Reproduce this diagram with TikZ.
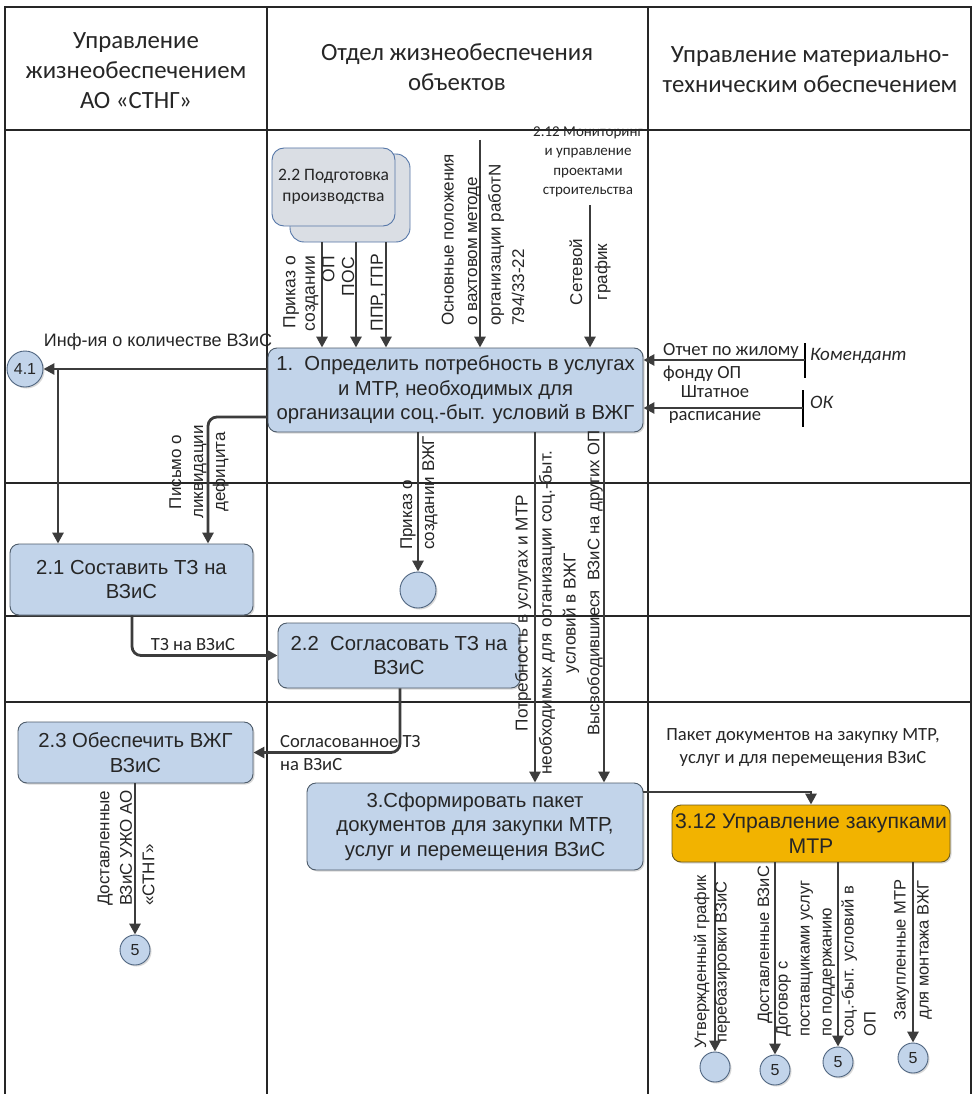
\documentclass[tikz,border=0pt]{standalone}
\usepackage{fontspec}
\setmainfont{Carlito}
\newfontfamily\arial{Liberation Sans}
\usetikzlibrary{arrows.meta,calc,shadows}
\definecolor{procfill}{HTML}{C2D4EA}
\definecolor{procdraw}{HTML}{4E5C6B}
\definecolor{circdraw}{HTML}{4F6580}
\definecolor{conncol}{HTML}{3C3C3C}
\definecolor{goldfill}{HTML}{F2B300}
\definecolor{golddraw}{HTML}{6B5A1E}
\definecolor{prepfill}{HTML}{DADEE4}
\definecolor{prepdraw}{HTML}{5677A8}
\tikzset{
  lane/.style={line width=1.2pt, draw=black!85},
  tickline/.style={line width=1.2pt, draw=black},
  shad/.style={drop shadow={shadow xshift=1.5pt, shadow yshift=-1.5pt, opacity=0.3}},
  proc/.style={rectangle, rounded corners=9pt, draw=procdraw, fill=procfill, line width=0.9pt,
    align=center, inner sep=1pt, font=\arial\fontsize{20.3}{24.5}\selectfont, text=black!85, shad},
  gold/.style={proc, fill=goldfill, draw=golddraw},
  circ/.style={circle, draw=circdraw, fill=procfill, line width=0.9pt, minimum size=30pt,
    inner sep=0pt, font=\arial\fontsize{16}{16}\selectfont, text=black!85, shad},
  conn/.style={line width=2.8pt, draw=conncol, -{Triangle[length=11pt,width=11pt]}},
  hdr/.style={align=center, font=\fontsize{24.8}{30}\selectfont, text=black!85, inner sep=0pt},
  rlbl/.style={rotate=90, inner sep=0pt, font=\arial\fontsize{17}{22}\selectfont, text=black!85},
  hlbl/.style={inner sep=0pt, font=\arial\fontsize{18}{21}\selectfont, text=black!85},
  clbl/.style={inner sep=0pt, font=\fontsize{18.6}{23}\selectfont, text=black!85},
  ilbl/.style={inner sep=0pt, font=\fontsize{19}{23}\selectfont\itshape, text=black!85},
}
\begin{document}
\begin{tikzpicture}[x=1pt, y=-1pt]
\useasboundingbox (0,0) rectangle (974,1094);
\fill[white] (0,0) rectangle (974,1094);
% lanes
\draw[lane] (5,1094) -- (5,7) -- (971,7) -- (971,1094);
\draw[lane] (5,130) -- (971,130);
\draw[lane] (267,7) -- (267,1094);
\draw[lane] (648,7) -- (648,1094);
\draw[lane] (5,483) -- (971,483);
\draw[lane] (5,616) -- (971,616);
\draw[lane] (5,702) -- (971,702);
% headers
\node[hdr] (h1) at (136,71) {Управление\\жизнеобеспечением\\АО «СТНГ»};
\node[hdr] (h2) at (457,67) {Отдел жизнеобеспечения\\объектов};
\node[hdr] (h3) at (810,70) {Управление материально-\\техническим обеспечением};
% 2.2 preparation (stacked)
\node[rectangle, rounded corners=14pt, draw=prepdraw, fill=prepfill, line width=0.9pt,
  minimum width=120pt, minimum height=88pt] (prepb) at (350,198) {};
\node[rectangle, rounded corners=12pt, draw=prepdraw, fill=prepfill, line width=0.9pt,
  minimum width=123pt, minimum height=78pt, align=center, text=black!85,
  font=\fontsize{17.5}{21}\selectfont] (prepf) at (333.5,187) {2.2 Подготовка\\производства};
% process nodes
\node[proc, minimum width=375pt, minimum height=84pt] (n1) at (455.5,390)
  {1.\ \ Определить потребность в услугах\\и МТР, необходимых для\\организации соц.-быт. условий в ВЖГ};
\node[proc, minimum width=243pt, minimum height=71pt] (n21) at (131.5,579.5) {2.1 Составить ТЗ на\\ВЗиС};
\node[proc, minimum width=242pt, minimum height=65pt] (n22) at (399,655.5) {2.2\ \ Согласовать ТЗ на\\ВЗиС};
\node[proc, minimum width=235pt, minimum height=61pt] (n23) at (135.5,752.5) {2.3 Обеспечить ВЖГ\\ВЗиС};
\node[proc, minimum width=336pt, minimum height=87pt] (n3) at (475,826.5)
  {3.Сформировать пакет\\документов для закупки МТР,\\услуг и перемещения ВЗиС};
\node[gold, minimum width=278pt, minimum height=57pt, font=\arial\fontsize{21.2}{25}\selectfont] (n312) at (811,833.5)
  {3.12 Управление закупками\\МТР};
% circles
\node[circ, minimum size=36pt] (c41) at (25,369) {4.1};
\node[circ, minimum size=36pt] (ce1) at (418,590) {};
\node[circ] (c5a) at (135,950) {5};
\node[circ] (cb1) at (715,1067) {};
\node[circ] (cb2) at (775,1070) {5};
\node[circ] (cb3) at (838,1062) {5};
\node[circ] (cb4) at (913,1058) {5};
% top inputs
\draw[conn] (prepb.south -| 322,0) -- (n1.north -| 322,0);
\draw[conn] (prepb.south -| 356,0) -- (n1.north -| 356,0);
\draw[conn] (prepb.south -| 386,0) -- (n1.north -| 386,0);
\coordinate (top1) at (480,140);
\draw[conn] (top1) -- (n1.north -| top1);
\node[align=center, inner sep=0pt, font=\fontsize{15}{19.5}\selectfont, text=black!85] (l212) at (588,162)
  {2.12 Мониторинг\\и управление\\проектами\\строительства};
\coordinate (s212) at (590,205);
\draw[conn] (s212) -- (n1.north -| s212);
\node[rlbl, anchor=east, align=right, font=\arial\fontsize{17.5}{19.5}\selectfont] (lpr) at (309,256) {Приказ о\\создании\\ОП};
\node[rlbl, anchor=east, font=\arial\fontsize{17.5}{19}\selectfont] (lpos) at (348,257) {ПОС};
\node[rlbl, anchor=east, font=\arial\fontsize{17.5}{19}\selectfont] (lppr) at (378,254) {ППР, ГПР};
\node[rlbl, anchor=west, align=left, font=\arial\fontsize{17}{23.5}\selectfont] (losn) at (483,326)
  {Основные положения\\о вахтовом методе\\организации работN\\794/33-22};
\node[rlbl, align=center, font=\arial\fontsize{17}{25}\selectfont] (lset) at (590,272) {Сетевой\\график};
% right inputs
\coordinate (kom) at (805,360);
\draw[tickline] (805,343) -- (805,378);
\draw[conn] (kom) -- (n1.east |- kom);
\node[clbl, anchor=west, align=left] (lotch) at (663,362) {Отчет по жилому\\фонду ОП};
\node[ilbl, anchor=west] (lkom) at (810,356) {Комендант};
\coordinate (okc) at (803,408);
\draw[tickline] (803,390) -- (803,427);
\draw[conn] (okc) -- (n1.east |- okc);
\node[clbl, align=center] (lsht) at (715,405) {Штатное\\расписание};
\node[ilbl, anchor=west] (lok) at (810,402) {ОК};
% left outputs
\draw[conn] (n1.west |- 0,369) -- (c41.east);
\node[hlbl] (linf) at (158,342) {Инф-ия о количестве ВЗиС};
\coordinate (j41) at (58,369);
\draw[conn] (j41) -- (n21.north -| j41);
\draw[conn, rounded corners=9pt] (n1.west |- 0,417) -| (n21.north -| 208,0);
\node[rlbl, align=center] (lpis) at (199,472) {Письмо о\\ликвидации\\дефицита};
% bottom outputs of n1
\draw[conn] (n1.south -| ce1) -- (ce1.north);
\node[rlbl, anchor=west, align=left, font=\arial\fontsize{17}{22}\selectfont] (lprv) at (419,550) {Приказ о\\создании ВЖГ};
\draw[conn] (n1.south -| 535,0) -- (n3.north -| 535,0);
\draw[conn] (n1.south -| 604,0) -- (n3.north -| 604,0);
\node[rlbl, align=center, font=\arial\fontsize{17.2}{24}\selectfont] (lpotr) at (547,613)
  {Потребность в услугах и МТР\\необходимых для организации соц.-быт.\\условий в ВЖГ};
\node[rlbl, font=\arial\fontsize{16.7}{22}\selectfont] (lvys) at (595,583) {Высвободившиеся\ \ ВЗиС на других ОП};
% chain 2.1 -> 2.2 -> 2.3 -> 5
\draw[conn, rounded corners=9pt] (n21.south -| 132,0) |- (n22.west);
\node[clbl] (ltz) at (193,645) {ТЗ на ВЗиС};
\draw[conn, rounded corners=9pt] (n22.south -| 400,0) |- (n23.east);
\node[clbl, anchor=west, align=left] (lsog) at (280,753) {Согласованное ТЗ\\на ВЗиС};
\draw[conn] (n23.south -| c5a) -- (c5a.north);
\node[rlbl, anchor=west, align=left, font=\arial\fontsize{17}{22.5}\selectfont] (ldos) at (126,906)
  {Доставленные\\ВЗиС УЖО АО\\«СТНГ»};
% 3 -> 3.12
\draw[conn] (n3.east |- 0,792) -| (n312.north);
\node[clbl, align=center] (lpak) at (803,748) {Пакет документов на закупку МТР,\\услуг и для перемещения ВЗиС};
% 3.12 outputs
\draw[conn] (n312.south -| cb1) -- (cb1.north);
\draw[conn] (n312.south -| cb2) -- (cb2.north);
\draw[conn] (n312.south -| cb3) -- (cb3.north);
\draw[conn] (n312.south -| cb4) -- (cb4.north);
\node[rlbl, align=center, font=\arial\fontsize{16.5}{20.5}\selectfont] (lutv) at (712,962) {Утвержденный график\\перебазировки ВЗиС};
\node[rlbl, font=\arial\fontsize{16.5}{20}\selectfont] (ldv) at (765,945) {Доставленные ВЗиС};
\node[rlbl, anchor=west, align=left, font=\arial\fontsize{16.5}{22}\selectfont] (ldog) at (826,1037)
  {Договор с\\поставщиками услуг\\по поддержанию\\соц.-быт. условий в\\ОП};
\node[rlbl, align=center, font=\arial\fontsize{16.5}{23}\selectfont] (lzak) at (913,950) {Закупленные МТР\\для монтажа ВЖГ};
\end{tikzpicture}
\end{document}
